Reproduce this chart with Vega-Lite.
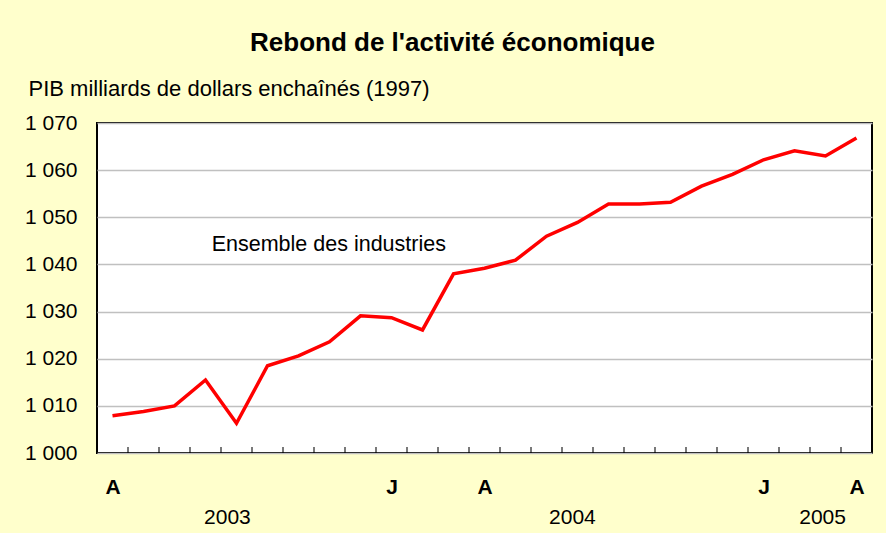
{
  "$schema": "https://vega.github.io/schema/vega-lite/v6.json",
  "autosize": {"type": "none"},
  "width": 775,
  "height": 330,
  "padding": {"left": 97, "top": 123, "right": 14, "bottom": 80},
  "background": "#FFFFCC",
  "config": {
    "font": "Liberation Sans",
    "view": {"fill": "white", "stroke": "black", "strokeWidth": 2},
    "axis": {"labelFont": "Liberation Sans", "labelColor": "black", "labelFontSize": 21, "titleFont": "Liberation Sans"}
  },
  "title": {
    "text": "Rebond de l'activité économique",
    "font": "Liberation Sans",
    "fontSize": 26,
    "fontWeight": "bold",
    "color": "black",
    "anchor": "middle",
    "frame": "group",
    "dx": -32,
    "offset": 21
  },
  "datasets": {
    "pib": [
      {"i": 0, "mois": "2003-04", "pib": 1007.9},
      {"i": 1, "mois": "2003-05", "pib": 1008.8},
      {"i": 2, "mois": "2003-06", "pib": 1010.0},
      {"i": 3, "mois": "2003-07", "pib": 1015.5},
      {"i": 4, "mois": "2003-08", "pib": 1006.3},
      {"i": 5, "mois": "2003-09", "pib": 1018.5},
      {"i": 6, "mois": "2003-10", "pib": 1020.6},
      {"i": 7, "mois": "2003-11", "pib": 1023.6},
      {"i": 8, "mois": "2003-12", "pib": 1029.1},
      {"i": 9, "mois": "2004-01", "pib": 1028.7},
      {"i": 10, "mois": "2004-02", "pib": 1026.1},
      {"i": 11, "mois": "2004-03", "pib": 1038.0},
      {"i": 12, "mois": "2004-04", "pib": 1039.2},
      {"i": 13, "mois": "2004-05", "pib": 1040.9},
      {"i": 14, "mois": "2004-06", "pib": 1046.0},
      {"i": 15, "mois": "2004-07", "pib": 1048.9},
      {"i": 16, "mois": "2004-08", "pib": 1052.8},
      {"i": 17, "mois": "2004-09", "pib": 1052.8},
      {"i": 18, "mois": "2004-10", "pib": 1053.2},
      {"i": 19, "mois": "2004-11", "pib": 1056.6},
      {"i": 20, "mois": "2004-12", "pib": 1059.1},
      {"i": 21, "mois": "2005-01", "pib": 1062.2},
      {"i": 22, "mois": "2005-02", "pib": 1064.1},
      {"i": 23, "mois": "2005-03", "pib": 1063.0},
      {"i": 24, "mois": "2005-04", "pib": 1066.8}
    ],
    "note": [
      {"i": 3.2, "pib": 1042.85, "texte": "Ensemble des industries"}
    ]
  },
  "resolve": {"axis": {"x": "independent", "y": "independent"}},
  "layer": [
    {
      "data": {"name": "pib"},
      "mark": {"type": "line", "color": "#FF0000", "strokeWidth": 3.5},
      "encoding": {
        "x": {
          "field": "i", "type": "quantitative",
          "scale": {"domain": [-0.5, 24.5], "nice": false, "zero": false},
          "axis": {
            "orient": "bottom",
            "values": [3.69, 14.82, 22.89],
            "labelExpr": "datum.value < 8 ? '2003' : (datum.value < 20 ? '2004' : '2005')",
            "labelBaseline": "alphabetic",
            "labelAlign": "center",
            "labelPadding": 70,
            "labelFlush": false,
            "labelOverlap": false,
            "ticks": false, "tickSize": 0, "domain": false, "grid": false,
            "title": null
          }
        },
        "y": {
          "field": "pib", "type": "quantitative",
          "scale": {"domain": [1000, 1070], "nice": false, "zero": false},
          "axis": {
            "orient": "left",
            "values": [1000,1010,1020,1030,1040,1050,1060,1070],
            "labelExpr": "replace(format(datum.value, ','), ',', ' ')",
            "labelPadding": 20,
            "labelOverlap": false,
            "labelFlush": false,
            "ticks": false, "domain": false,
            "grid": true, "gridColor": "#C0C0C0", "gridWidth": 1.5,
            "title": "PIB milliards de dollars enchaînés (1997)",
            "titleAngle": 0, "titleAlign": "left", "titleBaseline": "alphabetic",
            "titleX": -69, "titleY": -28,
            "titleFontSize": 22, "titleFontWeight": "normal", "titleColor": "black"
          }
        }
      }
    },
    {
      "data": {"name": "pib"},
      "transform": [{"filter": "datum.i < 24"}],
      "mark": {"type": "tick", "orient": "vertical", "color": "black", "size": 12, "thickness": 1.5, "clip": true, "xOffset": 15.5},
      "encoding": {
        "x": {"field": "i", "type": "quantitative", "scale": {"domain": [-0.5, 24.5], "nice": false, "zero": false}, "axis": null},
        "y": {"datum": 1000, "type": "quantitative", "scale": {"domain": [1000, 1070], "nice": false, "zero": false}, "axis": null}
      }
    },
    {
      "data": {"name": "note"},
      "mark": {"type": "text", "align": "left", "baseline": "alphabetic", "fontSize": 21.5, "color": "black", "font": "Liberation Sans"},
      "encoding": {
        "x": {
          "field": "i", "type": "quantitative",
          "scale": {"domain": [-0.5, 24.5], "nice": false, "zero": false},
          "axis": {
            "orient": "bottom",
            "values": [0, 9, 12, 21, 24],
            "labelExpr": "(datum.value == 9 || datum.value == 21) ? 'J' : 'A'",
            "labelFontWeight": "bold",
            "labelBaseline": "alphabetic",
            "labelAlign": "center",
            "labelPadding": 40,
            "labelFlush": false,
            "labelOverlap": false,
            "ticks": false, "tickSize": 0, "domain": false, "grid": false,
            "title": null
          }
        },
        "y": {"field": "pib", "type": "quantitative", "scale": {"domain": [1000, 1070], "nice": false, "zero": false}, "axis": null},
        "text": {"field": "texte"}
      }
    }
  ]
}
